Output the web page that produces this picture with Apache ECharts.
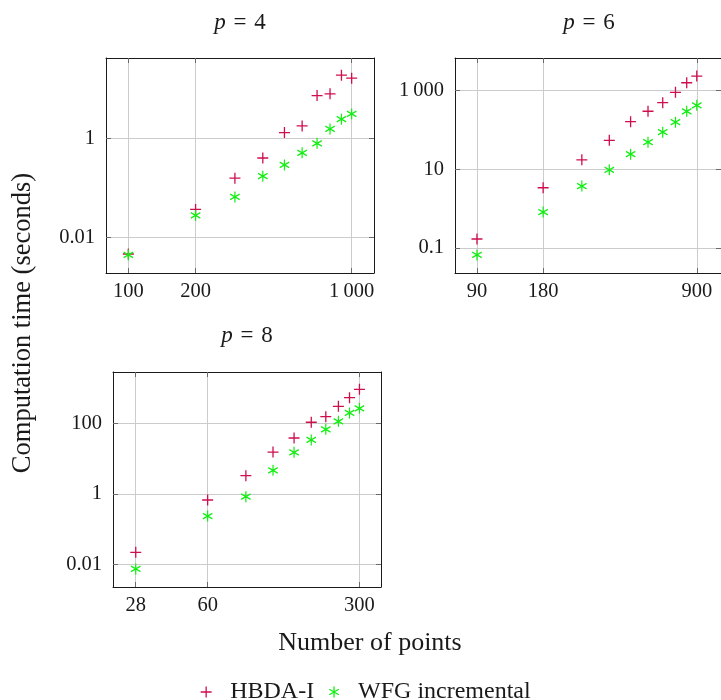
<!DOCTYPE html>
<html><head><meta charset="utf-8">
<script src="https://cdn.jsdelivr.net/npm/echarts@6/dist/echarts.min.js"></script>
<style>html,body{margin:0;padding:0;background:#fff}#c{width:721px;height:700px}</style>
</head><body><div id="c"></div>
<script>
// ---- data ----
const p4Points = [100, 200, 300, 400, 500, 600, 700, 800, 900, 1000];
const p4HBDA   = [0.0047, 0.037, 0.157, 0.40, 1.30, 1.77, 7.2, 7.8, 18.5, 16.1];
const p4WFG    = [0.0045, 0.028, 0.066, 0.172, 0.29, 0.51, 0.79, 1.54, 2.41, 3.08];

const p6Points = [90, 180, 270, 360, 450, 540, 630, 720, 810, 900];
const p6HBDA   = [0.169, 3.37, 17.2, 54, 160, 294, 485, 890, 1557, 2300];
const p6WFG    = [0.0665, 0.815, 3.72, 9.6, 24, 48.3, 86.5, 155, 294, 417];

const p8Points = [28, 60, 90, 120, 150, 180, 210, 240, 270, 300];
const p8HBDA   = [0.0219, 0.667, 3.26, 15.3, 38.3, 107, 154, 303, 532, 922];
const p8WFG    = [0.00736, 0.234, 0.828, 4.65, 15.0, 33.6, 67.6, 114, 196, 267];

const p4XTicks = [100, 200, 1000];
const p4YTicks = [0.01, 1, 100];
const p6XTicks = [90, 180, 900];
const p6YTicks = [0.1, 10, 1000];
const p8XTicks = [28, 60, 300];
const p8YTicks = [0.01, 1, 100];

const panelTitles = ['4', '6', '8'];
const seriesNames = ['HBDA-I', 'WFG incremental'];

// ---- style ----
const FONT = '"Liberation Serif", "DejaVu Serif", serif';
const RED = '#cf0e4c';
const GREEN = '#12ee12';
const PLUS = 'path://M5,0L5,10M0,5L10,5';
const STAR = 'path://M5,0L5,10M0.67,2.5L9.33,7.5M0.67,7.5L9.33,2.5';

function fmt(v) {
  const n = Number(Number(v).toPrecision(6));
  if (n >= 1000) {
    const s = String(n);
    return s.slice(0, s.length - 3) + '\u2009' + s.slice(s.length - 3);
  }
  return String(n);
}

const grids = [
  {left: 106, top: 58, width: 268, height: 215},
  {left: 455, top: 58, width: 272, height: 215},
  {left: 113, top: 372, width: 268, height: 215}
];
const xRanges = [[79.4, 1259], [71.5, 1160], [22, 377]];
const yRanges = [[0.00195, 41], [0.0232, 6600], [0.00227, 2850]];
const xTicks = [p4XTicks, p6XTicks, p8XTicks];
const yTicks = [p4YTicks, p6YTicks, p8YTicks];

function axis(dim, gi, main) {
  const r = dim === 'x' ? xRanges[gi] : yRanges[gi];
  const t = dim === 'x' ? xTicks[gi] : yTicks[gi];
  return {
    type: 'log', logBase: 10, gridIndex: gi,
    position: dim === 'x' ? (main ? 'bottom' : 'top') : (main ? 'left' : 'right'),
    min: r[0], max: r[1],
    axisLine: {show: true, onZero: false, lineStyle: {color: '#1a1a1a', width: 1}},
    axisTick: {show: true, inside: true, length: 5, customValues: t,
      lineStyle: {color: '#6a6a6a', width: 1}},
    axisLabel: {show: main, customValues: t, margin: dim === 'x' ? 8 : 11,
      fontFamily: FONT, fontSize: 20.5, color: '#1a1a1a', formatter: fmt,
      showMinLabel: true, showMaxLabel: true},
    splitLine: {show: main, lineStyle: {color: '#cccccc', width: 1}},
    minorTick: {show: false}, minorSplitLine: {show: false}
  };
}

const xAxis = [], yAxis = [];
for (let g = 0; g < 3; g++) {
  xAxis.push(axis('x', g, true), axis('x', g, false));
  yAxis.push(axis('y', g, true), axis('y', g, false));
}

const panels = [
  [p4Points, p4HBDA, p4WFG],
  [p6Points, p6HBDA, p6WFG],
  [p8Points, p8HBDA, p8WFG]
];

const series = [];
panels.forEach(function (p, g) {
  [1, 2].forEach(function (k) {
    const isRed = k === 1;
    series.push({
      type: 'scatter', name: seriesNames[k - 1],
      xAxisIndex: g * 2, yAxisIndex: g * 2,
      symbol: isRed ? PLUS : STAR,
      symbolSize: isRed ? [11, 11] : [9.5, 11],
      itemStyle: {color: 'rgba(0,0,0,0)', borderColor: isRed ? RED : GREEN,
        borderWidth: 1.3, opacity: 1},
      emphasis: {disabled: true},
      data: p[0].map(function (x, i) { return [x, p[k][i]]; })
    });
  });
});

const titleCenters = [[240, 23], [589, 23], [247, 336]];
const graphic = titleCenters.map(function (c, i) {
  return {
    type: 'text', x: c[0], y: c[1],
    style: {
      text: '{i|p}\u2004=\u2004' + panelTitles[i],
      rich: {i: {fontStyle: 'italic', fontFamily: FONT, fontSize: 23, fill: '#1a1a1a'}},
      fontFamily: FONT, fontSize: 23, fill: '#1a1a1a',
      align: 'center', verticalAlign: 'middle'
    }
  };
});
graphic.push({
  type: 'text', x: 23, y: 323, rotation: Math.PI / 2,
  style: {text: 'Computation time (seconds)', fontFamily: FONT, fontSize: 26.5,
    fill: '#1a1a1a', align: 'center', verticalAlign: 'middle'}
});
graphic.push({
  type: 'text', x: 370, y: 643,
  style: {text: 'Number of points', fontFamily: FONT, fontSize: 26,
    fill: '#1a1a1a', align: 'center', verticalAlign: 'middle'}
});

const chart = echarts.init(document.getElementById('c'), null, {renderer: 'canvas'});
chart.setOption({
  animation: false,
  backgroundColor: '#ffffff',
  grid: grids,
  xAxis: xAxis,
  yAxis: yAxis,
  series: series,
  graphic: graphic,
  legend: {
    left: 200, top: 680, padding: 0, itemGap: 14.5,
    itemWidth: 38, itemHeight: 11, selectedMode: false,
    textStyle: {fontFamily: FONT, fontSize: 24, color: '#1a1a1a'},
    data: [
      {name: seriesNames[0], icon: PLUS,
        itemStyle: {color: 'rgba(0,0,0,0)', borderColor: RED, borderWidth: 1.3}},
      {name: seriesNames[1], icon: STAR,
        itemStyle: {color: 'rgba(0,0,0,0)', borderColor: GREEN, borderWidth: 1.3}}
    ]
  }
});
</script>
</body></html>
